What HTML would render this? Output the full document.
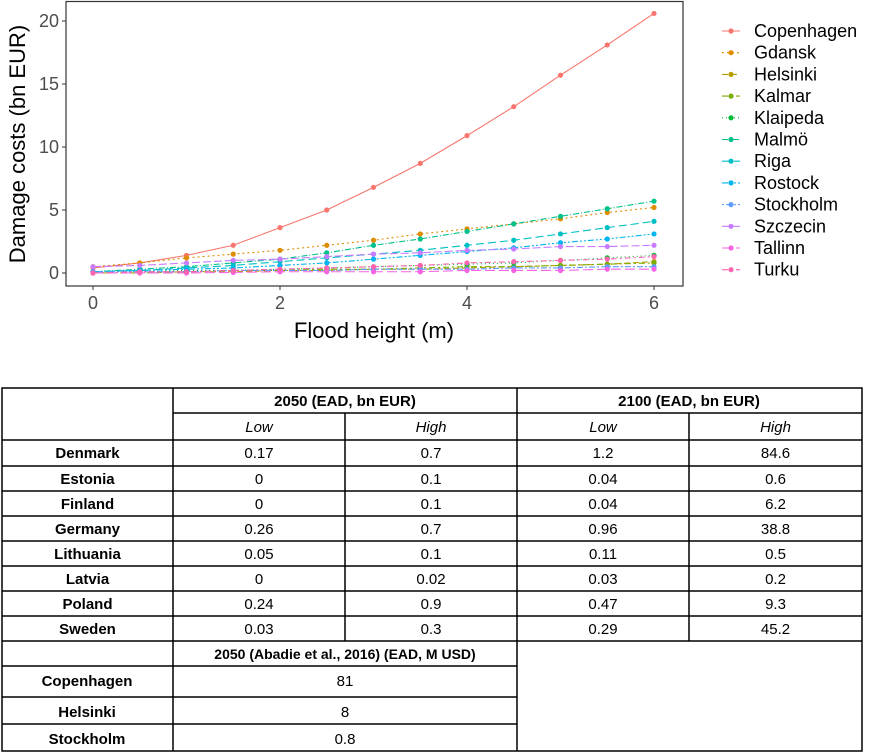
<!DOCTYPE html>
<html><head><meta charset="utf-8"><style>
body{margin:0;background:#fff;width:869px;height:753px;overflow:hidden;font-family:"Liberation Sans",sans-serif}
svg{position:absolute;left:0;top:0}
</style></head><body>
<svg id="chart" width="869" height="360" xmlns="http://www.w3.org/2000/svg"></svg>
<svg id="tbl" width="869" height="753" style="top:0" xmlns="http://www.w3.org/2000/svg"></svg>
<script>
const xs=[0,0.5,1,1.5,2,2.5,3,3.5,4,4.5,5,5.5,6];
const cities=["Copenhagen","Gdansk","Helsinki","Kalmar","Klaipeda","Malmö","Riga","Rostock","Stockholm","Szczecin","Tallinn","Turku"];
const colors=["#F8766D","#DE8C00","#B79F00","#7CAE00","#00BA38","#00C08B","#00BFC4","#00B4F0","#619CFF","#C77CFF","#F564E3","#FF64B0"];
const dashes=["","2,3","6,3","6,3,2,3","1,3","6,2,1,2","8,4","6,2,2,2,2,2","2,2,6,2","8,3","10,4","6,3,2,3"];
const copenhagen=[0.4,0.8,1.4,2.2,3.6,5.0,6.8,8.7,10.9,13.2,15.7,18.1,20.6];
const gdansk=[0.5,0.8,1.2,1.5,1.8,2.2,2.6,3.1,3.5,3.9,4.3,4.8,5.2];
const helsinki=[0,0,0.1,0.1,0.2,0.2,0.3,0.3,0.4,0.5,0.6,0.7,0.9];
const kalmar=[0,0.1,0.1,0.2,0.2,0.3,0.3,0.4,0.5,0.5,0.6,0.7,0.8];
const klaipeda=[0.1,0.1,0.2,0.2,0.3,0.4,0.5,0.6,0.7,0.8,1.0,1.2,1.4];
const malmo=[0.1,0.3,0.5,0.8,1.1,1.6,2.2,2.7,3.3,3.9,4.5,5.1,5.7];
const riga=[0.1,0.2,0.4,0.6,0.9,1.2,1.5,1.8,2.2,2.6,3.1,3.6,4.1];
const rostock=[0.1,0.2,0.3,0.4,0.6,0.8,1.1,1.4,1.7,2.0,2.4,2.7,3.1];
const stockholm=[0.1,0.1,0.1,0.2,0.2,0.2,0.3,0.3,0.3,0.4,0.4,0.5,0.5];
const szczecin=[0.5,0.6,0.8,1.0,1.1,1.3,1.5,1.6,1.8,1.9,2.1,2.1,2.2];
const tallinn=[0,0,0,0.05,0.1,0.1,0.1,0.1,0.2,0.2,0.2,0.3,0.3];
const turku=[0,0.1,0.1,0.2,0.3,0.4,0.5,0.6,0.8,0.9,1.0,1.1,1.3];
const series=[copenhagen,gdansk,helsinki,kalmar,klaipeda,malmo,riga,rostock,stockholm,szczecin,tallinn,turku];
const yTicks=[0,5,10,15,20];
const xTicks=[0,2,4,6];

const NS="http://www.w3.org/2000/svg";
function mk(p,t,a){const e=document.createElementNS(NS,t);for(const k in a)e.setAttribute(k,a[k]);p.appendChild(e);return e;}
const sx=v=>93+v*93.5, sy=v=>273-v*12.6;
const C=document.getElementById('chart');
let panel=mk(C,'rect',{x:66,y:1.5,width:617,height:284.5,fill:'none',stroke:'#333','stroke-width':1.2});

yTicks.forEach(v=>{
  mk(C,'line',{x1:62,x2:66,y1:sy(v),y2:sy(v),stroke:'#333'});
  let t=mk(C,'text',{x:59,y:sy(v)+6,'text-anchor':'end','font-size':18,fill:'#4d4d4d'});t.textContent=v;
  
});
xTicks.forEach(v=>{
  mk(C,'line',{x1:sx(v),x2:sx(v),y1:286,y2:290,stroke:'#333'});
  let t=mk(C,'text',{x:sx(v),y:309,'text-anchor':'middle','font-size':18,fill:'#4d4d4d'});t.textContent=v;
  
});
let xt=mk(C,'text',{x:374,y:338,'text-anchor':'middle','font-size':22});xt.textContent='Flood height (m)';

let yt=mk(C,'text',{x:0,y:0,'text-anchor':'middle','font-size':22,transform:'translate(25,144) rotate(-90)'});yt.textContent='Damage costs (bn EUR)';

series.forEach((s,i)=>{
  const g=mk(C,'g',{});
  
  
  mk(g,'polyline',{points:s.map((v,j)=>sx(xs[j])+','+sy(v)).join(' '),fill:'none',stroke:colors[i],'stroke-width':1.1,'stroke-dasharray':dashes[i]});
  s.forEach((v,j)=>mk(g,'circle',{cx:sx(xs[j]),cy:sy(v),r:2.6,fill:colors[i]}));
  const ly=31+i*21.7;
  const lg=mk(C,'g',{});
  
  
  mk(lg,'line',{x1:722,x2:740,y1:ly,y2:ly,stroke:colors[i],'stroke-width':1.1,'stroke-dasharray':dashes[i]});
  mk(lg,'circle',{cx:731,cy:ly,r:2.6,fill:colors[i]});
  const t=mk(lg,'text',{x:754,y:ly+6,'font-size':18});t.textContent=cities[i];
});

// table
const T=document.getElementById('tbl');
const cx=[2,173,345,517,689,862];
const ry=[388,413,440,466,491,516,541,566,591,616,641,666,697,724,751];
const rows=[["Denmark","0.17","0.7","1.2","84.6"],["Estonia","0","0.1","0.04","0.6"],["Finland","0","0.1","0.04","6.2"],["Germany","0.26","0.7","0.96","38.8"],["Lithuania","0.05","0.1","0.11","0.5"],["Latvia","0","0.02","0.03","0.2"],["Poland","0.24","0.9","0.47","9.3"],["Sweden","0.03","0.3","0.29","45.2"]];
const abadie=[["Copenhagen","81"],["Helsinki","8"],["Stockholm","0.8"]];
function L(x1,y1,x2,y2){mk(T,'line',{x1,y1,x2,y2,stroke:'#000','stroke-width':1.5});}
function TX(x,y,s,o){const t=mk(T,'text',Object.assign({x,y,'text-anchor':'middle','font-size':15},o||{}));t.textContent=s;return t;}
mk(T,'rect',{x:2,y:388,width:860,height:363,fill:'none',stroke:'#000','stroke-width':1.5});
for(let i=1;i<ry.length-1;i++){ if(i>=11) L(2,ry[i],517,ry[i]); else if(i===1) L(173,ry[i],862,ry[i]); else L(2,ry[i],862,ry[i]); }
L(173,388,173,751);L(517,388,517,751);
L(345,413,345,641);L(689,413,689,641);
TX(345,406,"2050 (EAD, bn EUR)",{'font-weight':'bold'});
TX(689,406,"2100 (EAD, bn EUR)",{'font-weight':'bold'});
["Low","High","Low","High"].forEach((s,i)=>TX((cx[i+1]+cx[i+2])/2,432,s,{'font-style':'italic'}));
rows.forEach((r,i)=>{const y=ry[i+2]+18;r.forEach((s,j)=>{TX((cx[j]+cx[j+1])/2,y,s,j===0?{'font-weight':'bold'}:{});});});
TX(345,659,"2050 (Abadie et al., 2016) (EAD, M USD)",{'font-weight':'bold','font-size':14});
abadie.forEach((r,i)=>{const y=ry[i+11]+20;TX(87,y,r[0],{'font-weight':'bold'});TX(345,y,r[1]);});
</script>
</body></html>
